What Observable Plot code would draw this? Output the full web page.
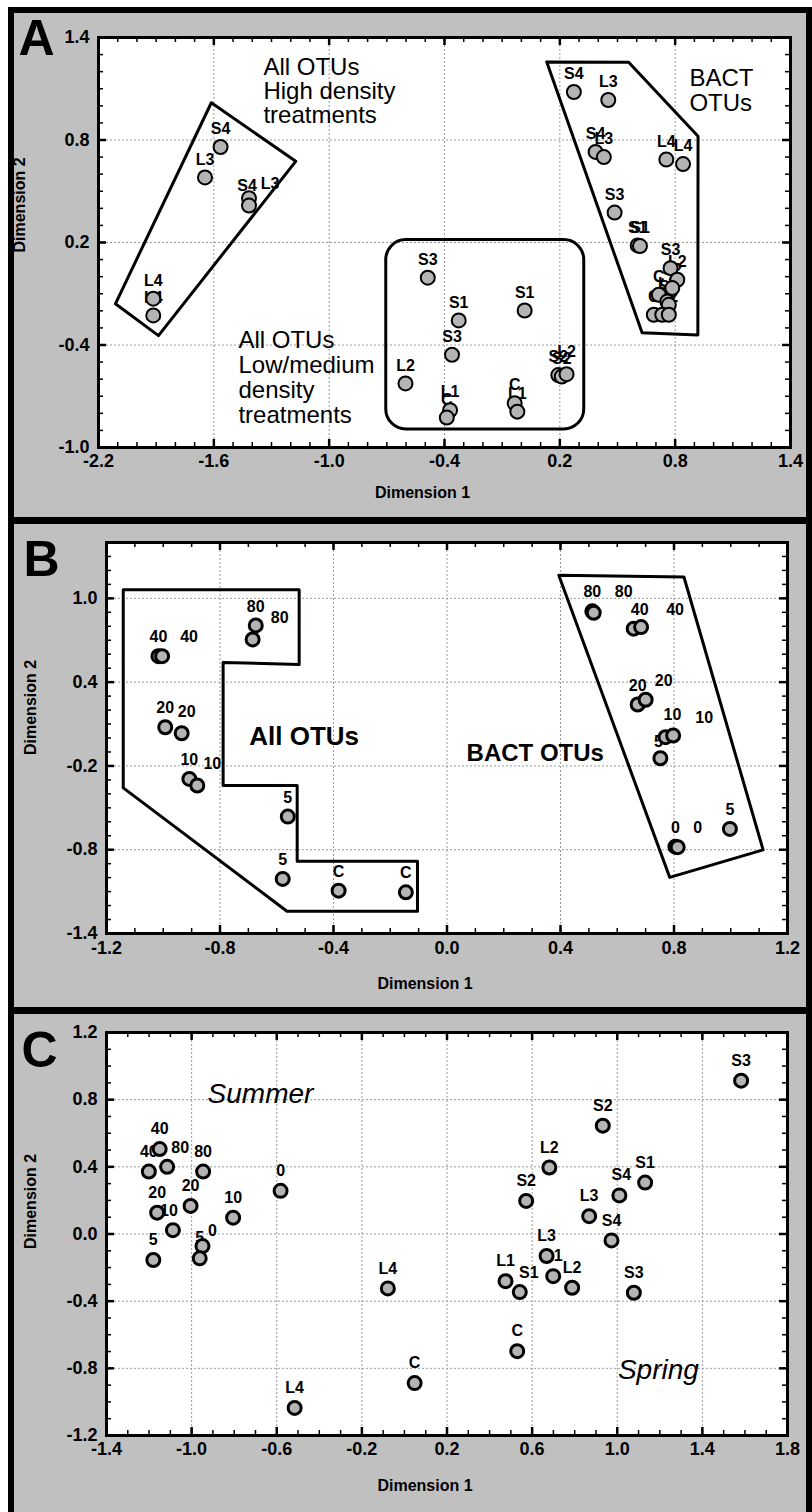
<!DOCTYPE html>
<html>
<head>
<meta charset="utf-8">
<script src="https://cdn.jsdelivr.net/npm/d3@7"></script>
<script src="https://cdn.jsdelivr.net/npm/@observablehq/plot@0.6"></script>
<style>
  html, body { margin: 0; padding: 0; background: #fff; }
  #figure { position: relative; width: 812px; height: 1512px; overflow: hidden; background: #fff; }
  #figure .back { position: absolute; left: 8px; top: 7px; right: 0; bottom: 0; background: #000; }
  #figure .bg { position: absolute; left: 14px; right: 6px; background: #c0c0c0; }
  #figure .plot { position: absolute; left: 0; }
</style>
</head>
<body>
<div id="figure">
  <div class="back"></div>
  <div class="bg" style="top:13px;height:504px"></div>
  <div class="bg" style="top:524px;height:483px"></div>
  <div class="bg" style="top:1014px;height:498px"></div>
</div>
<script>
// ---------- Panel A: NMDS of all OTUs and BACT OTUs, treatment codes ----------
const aLabels = ["S4","L3","S4","L3","L4","L4",
  "S3","S1","S1","S3","L2","L1","C","C","L1","S2","S2","L2",
  "S4","L3","S4","L3","L4","L4","S3","S1","S1","S3","L2","S2","C","L1","S2","C","L1","L2"];
const aX = [-1.565,-1.646,-1.417,-1.417,-1.915,-1.915,
  -0.487,-0.326,0.017,-0.361,-0.603,-0.371,-0.388,-0.035,-0.021,0.192,0.210,0.235,
  0.273,0.452,0.386,0.429,0.754,0.841,0.485,0.605,0.617,0.776,0.811,0.785,0.715,0.759,0.767,0.689,0.733,0.767];
const aY = [0.759,0.581,0.459,0.416,-0.129,-0.227,
  -0.006,-0.256,-0.198,-0.457,-0.625,-0.782,-0.825,-0.741,-0.790,-0.576,-0.585,-0.571,
  1.081,1.034,0.730,0.700,0.686,0.659,0.375,0.183,0.179,0.050,-0.018,-0.067,-0.106,-0.145,-0.165,-0.223,-0.223,-0.223];
// hulls drawn around the groups
const aHighX = [-1.613,-1.174,-1.888,-2.112];
const aHighY = [1.018,0.675,-0.345,-0.159];
const aBactX = [0.132,0.558,0.919,0.918,0.628];
const aBactY = [1.257,1.255,0.822,-0.341,-0.329];
const aLowBox = {x1: -0.703, x2: 0.327, y1: -0.894, y2: 0.214};

// ---------- Panel B: density series ----------
const bLabels = ["40","40","80","80","20","20","10","10","5","5","C","C",
  "80","80","40","40","20","20","10","10","5","0","0","5"];
const bX = [-1.017,-1.004,-0.674,-0.685,-0.993,-0.935,-0.908,-0.880,-0.561,-0.579,-0.382,-0.145,
  0.512,0.517,0.658,0.684,0.672,0.700,0.770,0.797,0.752,0.805,0.813,0.997];
const bY = [0.586,0.586,0.806,0.706,0.077,0.034,-0.293,-0.340,-0.563,-1.009,-1.093,-1.105,
  0.907,0.897,0.783,0.794,0.240,0.274,0.006,0.018,-0.145,-0.778,-0.782,-0.651];
const bAllX = [-1.141,-0.521,-0.521,-0.789,-0.789,-0.528,-0.528,-0.104,-0.104,-0.564,-1.141];
const bAllY = [1.062,1.062,0.527,0.541,-0.341,-0.341,-0.883,-0.883,-1.241,-1.241,-0.357];
const bBactX = [0.394,0.835,1.114,0.785];
const bBactY = [1.165,1.153,-0.801,-0.998];

// ---------- Panel C: summer and spring experiments ----------
const cLabels = ["40","40","80","80","0","20","20","10","10","5","0","5",
  "S3","S2","L2","S1","S2","S4","L3","S4","L3","L1","L1","L2","S1","S3","L4","C","C","L4"];
const cX = [-1.150,-1.201,-1.115,-0.946,-0.582,-1.162,-1.005,-0.805,-1.088,-1.180,-0.949,-0.962,
  1.582,0.932,0.681,1.131,0.572,1.010,0.868,0.973,0.668,0.699,0.475,0.788,0.542,1.078,-0.078,0.530,0.048,-0.516];
const cY = [0.506,0.372,0.400,0.372,0.257,0.127,0.167,0.097,0.023,-0.155,-0.072,-0.145,
  0.913,0.645,0.396,0.306,0.197,0.230,0.106,-0.038,-0.131,-0.251,-0.281,-0.320,-0.346,-0.350,-0.324,-0.698,-0.888,-1.036];

// label placement (pixel shifts relative to default above-point spot)
const aLabelShift = {2: [-2,-12], 3: [21,-22], 17: [0,-22]};
const bLabelShift = {1: [27,-19], 3: [27,-22], 5: [5,-21], 7: [15,-22], 13: [30,-21], 14: [6,-19],
  15: [34,-17], 17: [18,-19], 18: [7,-22], 19: [31,-18], 20: [-2,-16], 22: [20,-19]};
const cLabelShift = {2: [13,-19], 8: [-4,-19], 10: [10,-15], 17: [2,-21], 24: [9,-19]};

const W = 812;
const FONT = '"Liberation Sans", Arial, Helvetica, sans-serif';
const fmt = d => d.toFixed(1);

function rowsOf(labels, xs, ys, shift, defDy) {
  return labels.map((label, i) => {
    const s = shift[i] || [0, defDy];
    return {label, x: xs[i], y: ys[i], dx: s[0], dy: s[1]};
  });
}

function labelMarks(rows, size) {
  return d3.groups(rows, d => d.dx + "," + d.dy).map(([, g]) =>
    Plot.text(g, {x: "x", y: "y", text: "label", dx: g[0].dx, dy: g[0].dy,
      fontSize: size, fontWeight: "bold", fill: "#000"}));
}

function polygon(xs, ys) {
  return Plot.line(xs.map((x, i) => ({x, y: ys[i]})),
    {x: "x", y: "y", curve: "linear-closed", stroke: "#000", strokeWidth: 3, fill: "none"});
}

function panel(cfg) {
  const fh = cfg.height - cfg.mt - cfg.mb;
  const fw = W - cfg.ml - cfg.mr;
  const minor = d3.range(Math.round(cfg.xDomain[0] * 10), Math.round(cfg.xDomain[1] * 10) + 1).map(i => i / 10);
  const minorY = d3.range(Math.round(cfg.yDomain[0] * 10), Math.round(cfg.yDomain[1] * 10) + 1).map(i => i / 10);
  const inner = v => v.slice(1, -1);
  const tickStyle = {stroke: "#000", strokeWidth: 1.5};
  const majStyle = {stroke: "#000", strokeWidth: 2.5};
  const rows = rowsOf(cfg.labels, cfg.xs, cfg.ys, cfg.shift, cfg.defDy);
  const svg = Plot.plot({
    width: W, height: cfg.height,
    marginLeft: cfg.ml, marginRight: cfg.mr, marginTop: cfg.mt, marginBottom: cfg.mb,
    x: {domain: cfg.xDomain, axis: null},
    y: {domain: cfg.yDomain, axis: null},
    style: {fontFamily: FONT, background: "transparent", overflow: "visible", color: "#000"},
    marks: [
      Plot.frame({fill: "#fff", stroke: null}),
      Plot.gridX(inner(cfg.xMajor), {stroke: "#9a9a9a", strokeOpacity: 1, strokeWidth: 1, strokeDasharray: "2,2"}),
      Plot.gridY(inner(cfg.yGrid || cfg.yMajor), {stroke: "#9a9a9a", strokeOpacity: 1, strokeWidth: 1, strokeDasharray: "2,2"}),
      ...cfg.shapes,
      ...cfg.notes,
      ...labelMarks(rows, 16),
      Plot.dot(rows, {x: "x", y: "y", r: cfg.r, fill: "#b4b4b4", stroke: "#000", strokeWidth: cfg.dotStroke}),
      // inward minor ticks on all four sides
      Plot.tickX(minor, {x: d => d, insetTop: fh - 5, ...tickStyle}),
      Plot.tickX(minor, {x: d => d, insetBottom: fh - 5, ...tickStyle}),
      Plot.tickY(minorY, {y: d => d, insetRight: fw - 5, ...tickStyle}),
      Plot.tickY(minorY, {y: d => d, insetLeft: fw - 5, ...tickStyle}),
      // major ticks
      Plot.tickX(cfg.xMajor, {x: d => d, insetTop: fh - 8, ...majStyle}),
      Plot.tickX(cfg.xMajor, {x: d => d, insetBottom: fh - 8, ...majStyle}),
      Plot.tickY(cfg.yMajor, {y: d => d, insetRight: fw - 8, ...majStyle}),
      Plot.tickY(cfg.yMajor, {y: d => d, insetLeft: fw - 8, ...majStyle}),
      Plot.frame({stroke: "#000", strokeWidth: 3}),
      // tick labels
      Plot.text(cfg.xMajor, {x: d => d, frameAnchor: "bottom", dy: cfg.xLabelDy, text: fmt,
        fontSize: 18, fontWeight: "bold", fill: "#000"}),
      Plot.text(cfg.yMajor, {y: d => d, frameAnchor: "left", dx: -9, textAnchor: "end", text: fmt,
        fontSize: 18, fontWeight: "bold", fill: "#000"}),
      // axis titles
      Plot.text(["Dimension 1"], {frameAnchor: "bottom", dx: -22, dy: cfg.xTitleDy, text: d => d,
        fontSize: 16, fontWeight: "bold", fill: "#000"}),
      Plot.text(["Dimension 2"], {frameAnchor: "left", dx: cfg.yTitleDx, dy: cfg.yTitleDy, rotate: -90, text: d => d,
        fontSize: 16, fontWeight: "bold", fill: "#000"}),
      // panel letter
      Plot.text([cfg.letter], {frameAnchor: "top-left", dx: cfg.letterDx, dy: cfg.letterDy,
        textAnchor: "start", lineAnchor: "middle", text: d => d, fontSize: 50, fontWeight: "bold", fill: "#000"})
    ]
  });
  svg.classList.add("plot");
  svg.style.top = cfg.top + "px";
  document.getElementById("figure").appendChild(svg);
}

const noteStyle = {textAnchor: "start", lineAnchor: "middle", fill: "#000"};

panel({
  letter: "A", top: 0, height: 517, ml: 98, mr: 22, mt: 37, mb: 70,
  xDomain: [-2.2, 1.4], yDomain: [-1.0, 1.4],
  xMajor: [-2.2, -1.6, -1.0, -0.4, 0.2, 0.8, 1.4],
  yMajor: [-1.0, -0.4, 0.2, 0.8, 1.4],
  labels: aLabels, xs: aX, ys: aY, shift: aLabelShift, defDy: -18, r: 7, dotStroke: 2,
  shapes: [
    polygon(aHighX, aHighY),
    polygon(aBactX, aBactY),
    Plot.rect([aLowBox], {x1: "x1", x2: "x2", y1: "y1", y2: "y2", rx: 20, fill: "none", stroke: "#000", strokeWidth: 3})
  ],
  notes: [
    Plot.text(["All OTUs\nHigh density\ntreatments"], {x: -1.342, y: 1.087, text: d => d, fontSize: 24, lineHeight: 1.0, ...noteStyle}),
    Plot.text(["BACT\nOTUs"], {x: 0.874, y: 1.091, text: d => d, fontSize: 24, lineHeight: 1.03, ...noteStyle}),
    Plot.text(["All OTUs\nLow/medium\ndensity\ntreatments"], {x: -1.472, y: -0.591, text: d => d, fontSize: 24, lineHeight: 1.04, ...noteStyle})
  ],
  xLabelDy: 19, xTitleDy: 50, yTitleDx: -79, yTitleDy: 10,
  letterDx: -80, letterDy: 1
});

panel({
  letter: "B", top: 517, height: 490, ml: 106, mr: 25, mt: 25, mb: 74,
  xDomain: [-1.2, 1.2], yDomain: [-1.4, 1.4],
  xMajor: [-1.2, -0.8, -0.4, 0.0, 0.4, 0.8, 1.2],
  yMajor: [-1.4, -0.8, -0.2, 0.4, 1.0],
  yGrid: [-1.4, -0.8, -0.2, 0.4, 1.0, 1.4],
  labels: bLabels, xs: bX, ys: bY, shift: bLabelShift, defDy: -19, r: 6.5, dotStroke: 3,
  shapes: [polygon(bAllX, bAllY), polygon(bBactX, bBactY)],
  notes: [
    Plot.text(["All OTUs"], {x: -0.697, y: 0.006, text: d => d, fontSize: 26, fontWeight: "bold", ...noteStyle}),
    Plot.text(["BACT OTUs"], {x: 0.069, y: -0.113, text: d => d, fontSize: 24, fontWeight: "bold", ...noteStyle})
  ],
  xLabelDy: 20, xTitleDy: 55, yTitleDx: -76, yTitleDy: 17,
  letterDx: -83, letterDy: 17
});

panel({
  letter: "C", top: 1007, height: 505, ml: 106, mr: 25, mt: 25, mb: 77,
  xDomain: [-1.4, 1.8], yDomain: [-1.2, 1.2],
  xMajor: [-1.4, -1.0, -0.6, -0.2, 0.2, 0.6, 1.0, 1.4, 1.8],
  yMajor: [-1.2, -0.8, -0.4, 0.0, 0.4, 0.8, 1.2],
  labels: cLabels, xs: cX, ys: cY, shift: cLabelShift, defDy: -20, r: 6.5, dotStroke: 3,
  shapes: [],
  notes: [
    Plot.text(["Summer"], {x: -0.925, y: 0.836, text: d => d, fontSize: 28, fontStyle: "italic", ...noteStyle}),
    Plot.text(["Spring"], {x: 1.003, y: -0.808, text: d => d, fontSize: 28, fontStyle: "italic", ...noteStyle})
  ],
  xLabelDy: 19, xTitleDy: 55, yTitleDx: -76, yTitleDy: 15,
  letterDx: -85, letterDy: 18
});
</script>
</body>
</html>
